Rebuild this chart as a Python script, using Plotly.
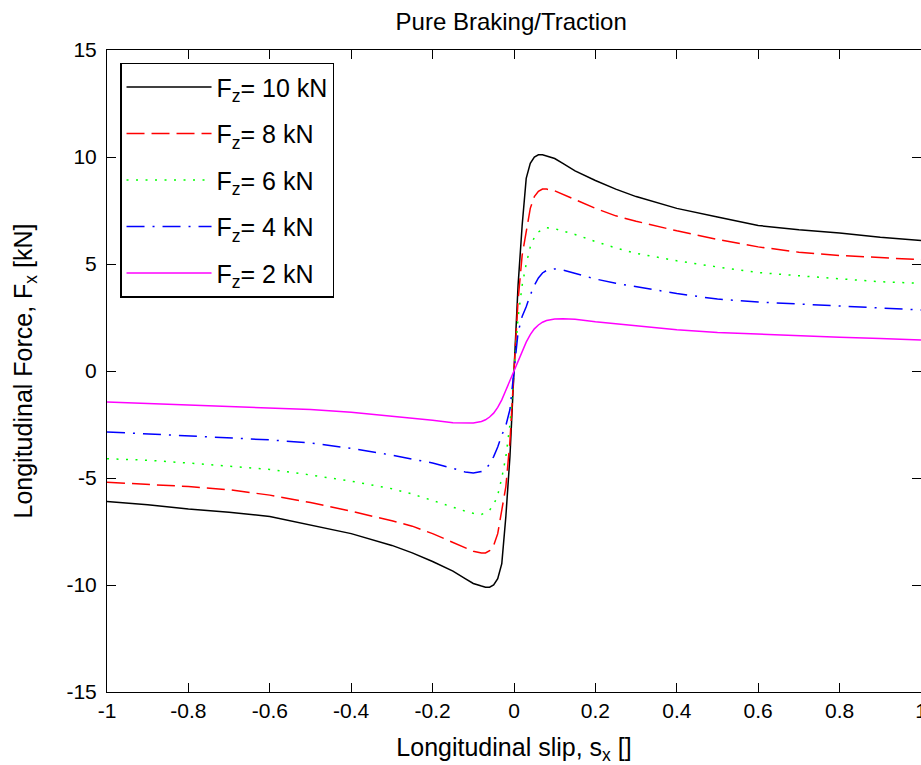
import plotly.graph_objects as go

slip = [-1.0, -0.9, -0.8, -0.7, -0.6, -0.5, -0.4, -0.3, -0.25, -0.2, -0.15, -0.12, -0.1,
        -0.08, -0.07, -0.06, -0.05, -0.04, -0.03, -0.02, -0.01, -0.005, 0.0,
        0.005, 0.01, 0.02, 0.03, 0.04, 0.05, 0.06, 0.07, 0.08, 0.1, 0.12, 0.15,
        0.2, 0.25, 0.3, 0.4, 0.5, 0.6, 0.7, 0.8, 0.9, 1.0]

fx_10kN = [-6.1, -6.25, -6.45, -6.6, -6.8, -7.2, -7.6, -8.15, -8.5, -8.9, -9.35, -9.7, -9.93,
           -10.05, -10.1, -10.1, -10.0, -9.7, -9.0, -6.8, -4.0, -2.0, 0.0,
           2.0, 4.0, 6.8, 9.0, 9.7, 10.0, 10.1, 10.1, 10.05, 9.93, 9.7, 9.35,
           8.9, 8.5, 8.15, 7.6, 7.2, 6.8, 6.6, 6.45, 6.25, 6.1]
fx_8kN = [-5.2, -5.3, -5.4, -5.55, -5.8, -6.15, -6.55, -7.0, -7.25, -7.6, -8.0, -8.25, -8.42,
          -8.5, -8.5, -8.4, -8.15, -7.6, -6.5, -5.4, -3.3, -1.7, 0.0,
          1.7, 3.3, 5.4, 6.5, 7.6, 8.15, 8.4, 8.5, 8.5, 8.42, 8.25, 8.0,
          7.6, 7.25, 7.0, 6.55, 6.15, 5.8, 5.55, 5.4, 5.3, 5.2]
fx_6kN = [-4.1, -4.17, -4.3, -4.45, -4.6, -4.86, -5.15, -5.5, -5.75, -6.05, -6.38, -6.55, -6.65,
          -6.7, -6.62, -6.5, -6.25, -5.8, -5.0, -4.0, -2.5, -1.3, 0.0,
          1.3, 2.5, 4.0, 5.0, 5.8, 6.25, 6.5, 6.62, 6.7, 6.65, 6.55, 6.38,
          6.05, 5.75, 5.5, 5.15, 4.86, 4.6, 4.45, 4.3, 4.17, 4.1]
fx_4kN = [-2.85, -2.94, -3.04, -3.13, -3.22, -3.36, -3.62, -3.93, -4.1, -4.3, -4.55, -4.72, -4.77,
          -4.7, -4.58, -4.35, -4.0, -3.55, -3.0, -2.55, -1.8, -0.9, 0.0,
          0.9, 1.8, 2.55, 3.0, 3.55, 4.0, 4.35, 4.58, 4.7, 4.77, 4.72, 4.55,
          4.3, 4.1, 3.93, 3.62, 3.36, 3.22, 3.13, 3.04, 2.94, 2.85]
fx_2kN = [-1.45, -1.52, -1.58, -1.64, -1.72, -1.8, -1.93, -2.1, -2.2, -2.3, -2.42, -2.44, -2.43,
          -2.36, -2.28, -2.15, -1.97, -1.7, -1.35, -0.9, -0.45, -0.2, 0.0,
          0.2, 0.45, 0.9, 1.35, 1.7, 1.97, 2.15, 2.28, 2.36, 2.43, 2.44, 2.42,
          2.3, 2.2, 2.1, 1.93, 1.8, 1.72, 1.64, 1.58, 1.52, 1.45]

series_names = ["F<sub>z</sub>= 10 kN", "F<sub>z</sub>= 8 kN", "F<sub>z</sub>= 6 kN",
                "F<sub>z</sub>= 4 kN", "F<sub>z</sub>= 2 kN"]
series_values = [fx_10kN, fx_8kN, fx_6kN, fx_4kN, fx_2kN]
series_colors = ["#000000", "#ff0000", "#00ff00", "#0000ff", "#ff00ff"]
series_dash = ["solid", "18px,7px", "2px,7.5px", "18px,8px,2px,8px", "solid"]

x_ticks = [-1, -0.8, -0.6, -0.4, -0.2, 0, 0.2, 0.4, 0.6, 0.8, 1]
x_tick_labels = ["-1", "-0.8", "-0.6", "-0.4", "-0.2", "0", "0.2", "0.4", "0.6", "0.8", "1"]
y_ticks = [-15, -10, -5, 0, 5, 10, 15]
y_tick_labels = ["-15", "-10", "-5", "0", "5", "10", "15"]

FONT = "Liberation Sans, Arial, sans-serif"

fig = go.Figure()
for i, (name, vals, col, dash) in enumerate(zip(series_names, series_values, series_colors, series_dash)):
    fig.add_trace(go.Scatter(
        x=slip, y=vals, mode="lines", name=name, legendgroup=f"g{i}",
        line=dict(color=col, width=1.5, dash=dash),
    ))

axis_common = dict(
    showgrid=False, zeroline=False, showline=True, linecolor="black", linewidth=1,
    mirror="ticks", ticks="inside", ticklen=9, tickcolor="black", tickwidth=1,
    tickfont=dict(family=FONT, size=21, color="black"), automargin=False,
    ticklabeloverflow="allow",
)

fig.update_layout(
    width=921, height=765,
    margin=dict(l=107, r=0, t=50, b=73),
    paper_bgcolor="white", plot_bgcolor="white",
    title=dict(text="Pure Braking/Traction", x=0.555, xanchor="center", y=0.972, yanchor="middle",
               font=dict(family=FONT, size=24, color="black")),
    xaxis=dict(range=[-1, 1], tickvals=x_ticks, ticktext=x_tick_labels,
               title=dict(text="Longitudinal slip, s<sub>x</sub> []", standoff=17,
                          font=dict(family=FONT, size=25, color="black")),
               **axis_common),
    yaxis=dict(range=[-15, 15], tickvals=y_ticks, ticktext=y_tick_labels,
               ticklabelstandoff=5,
               title=dict(text="Longitudinal Force, F<sub>x</sub> [kN]", standoff=26,
                          font=dict(family=FONT, size=25, color="black")),
               **axis_common),
    legend=dict(x=0.016, y=0.98, xanchor="left", yanchor="top",
                bgcolor="white", bordercolor="black", borderwidth=1.5,
                font=dict(family=FONT, size=25, color="black"),
                tracegroupgap=11, itemwidth=85),
    showlegend=True,
)

fig.write_html("out.html")
